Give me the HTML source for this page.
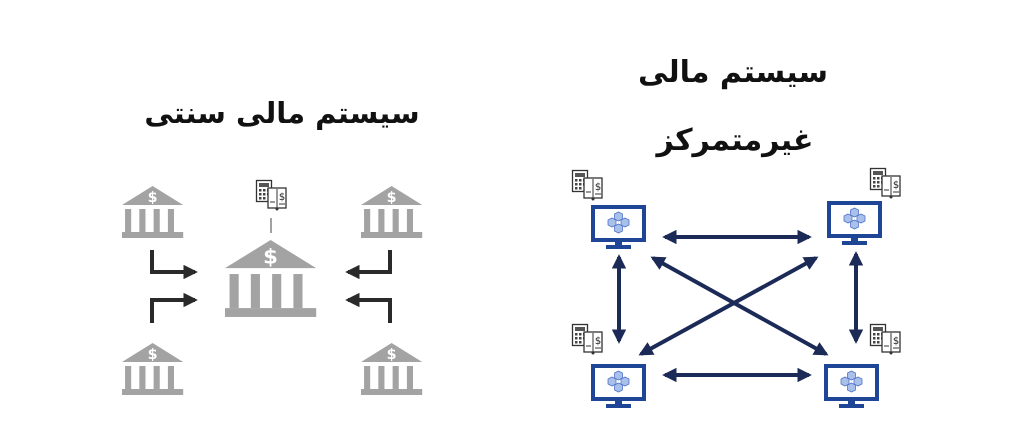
<!DOCTYPE html>
<html><head><meta charset="utf-8"><style>
html,body{margin:0;padding:0;background:#fff;}
svg{display:block}
text{font-family:"DejaVu Sans","Noto Sans CJK SC",sans-serif;}
</style></head><body>
<svg width="1024" height="435" viewBox="0 0 1024 435" xmlns="http://www.w3.org/2000/svg">
<defs>
<g id="bank">
 <polygon points="0,19 30,0 60,19" fill="#a3a3a3"/>
 <text x="30" y="16" font-size="14" font-weight="bold" fill="#fff" text-anchor="middle">$</text>
 <rect x="3" y="23" width="6" height="23" fill="#a3a3a3"/>
 <rect x="17" y="23" width="6" height="23" fill="#a3a3a3"/>
 <rect x="31" y="23" width="6" height="23" fill="#a3a3a3"/>
 <rect x="45" y="23" width="6" height="23" fill="#a3a3a3"/>
 <rect x="0" y="46" width="60" height="6" fill="#a3a3a3"/>
</g>
<g id="calc">
 <rect x="0.5" y="0.5" width="15" height="21" fill="#fff" stroke="#333" stroke-width="1.3"/>
 <rect x="3" y="3" width="10" height="4" fill="#555"/>
 <g fill="#444"><rect x="3" y="9" width="2.5" height="2.5"/><rect x="7" y="9" width="2.5" height="2.5"/><rect x="11" y="9" width="2.5" height="2.5"/>
 <rect x="3" y="13" width="2.5" height="2.5"/><rect x="7" y="13" width="2.5" height="2.5"/><rect x="11" y="13" width="2.5" height="2.5"/>
 <rect x="3" y="17" width="2.5" height="2.5"/><rect x="7" y="17" width="2.5" height="2.5"/></g>
 <rect x="12" y="8" width="18" height="20" fill="#fff" stroke="#333" stroke-width="1.3"/>
 <line x1="21" y1="9" x2="21" y2="28" stroke="#333" stroke-width="1"/>
 <text x="26" y="20" font-size="10" fill="#222" text-anchor="middle">$</text>
 <line x1="14" y1="22" x2="19" y2="22" stroke="#333"/><line x1="23" y1="24" x2="29" y2="24" stroke="#333"/>
 <circle cx="21" cy="29" r="1.5" fill="#333"/>
</g>
<g id="cube"><polygon points="0,-4 4,-2 4,3 0,5 -4,3 -4,-2" fill="#a9c0ea" stroke="#4f73c9" stroke-width="0.8"/></g>
<g id="mon">
 <rect x="2" y="2" width="51" height="33" fill="#fff" stroke="#1e4596" stroke-width="4"/>
 <rect x="24" y="36" width="7" height="4" fill="#1e4596"/>
 <rect x="15" y="40" width="25" height="4" fill="#1e4596"/>
 <use href="#cube" x="27.5" y="11"/><use href="#cube" x="21" y="17"/><use href="#cube" x="34" y="17"/><use href="#cube" x="27.5" y="23"/>
</g>
<marker id="ah" viewBox="0 0 10 10" refX="8" refY="5" markerWidth="3.6" markerHeight="3.6" orient="auto-start-reverse"><path d="M0,0 L10,5 L0,10 z" fill="#1b2a57"/></marker>
<marker id="ak" viewBox="0 0 10 10" refX="8" refY="5" markerWidth="3.6" markerHeight="3.6" orient="auto"><path d="M0,0 L10,5 L0,10 z" fill="#2a2a2a"/></marker>
</defs>

<text x="282" y="123" font-size="29" font-weight="bold" text-anchor="middle" fill="#111">سیستم مالی سنتی</text>
<text x="733" y="82" font-size="30" font-weight="bold" text-anchor="middle" fill="#111">سیستم مالی</text>
<text x="735" y="150" font-size="30" font-weight="bold" text-anchor="middle" fill="#111">غیرمتمرکز</text>

<use href="#bank" transform="translate(122,186) scale(1.02,1)"/>
<use href="#bank" transform="translate(361,186) scale(1.02,1)"/>
<use href="#bank" transform="translate(122,343) scale(1.02,1)"/>
<use href="#bank" transform="translate(361,343) scale(1.02,1)"/>
<use href="#bank" transform="translate(225,240) scale(1.52,1.48)"/>
<use href="#calc" transform="translate(256,180)"/>
<line x1="271" y1="218" x2="271" y2="233" stroke="#444" stroke-width="1"/>

<g stroke="#2a2a2a" stroke-width="4" fill="none">
<path d="M152,250 V272 H195" marker-end="url(#ak)"/>
<path d="M152,323 V300 H195" marker-end="url(#ak)"/>
<path d="M390,250 V272 H348" marker-end="url(#ak)"/>
<path d="M390,323 V300 H348" marker-end="url(#ak)"/>
</g>

<use href="#mon" x="591" y="205"/>
<use href="#mon" x="827" y="201"/>
<use href="#mon" x="591" y="364"/>
<use href="#mon" x="824" y="364"/>
<use href="#calc" x="572" y="170"/>
<use href="#calc" x="870" y="168"/>
<use href="#calc" x="572" y="324"/>
<use href="#calc" x="870" y="324"/>

<g stroke="#1b2a57" stroke-width="4" fill="none" marker-start="url(#ah)" marker-end="url(#ah)">
<line x1="665" y1="237" x2="809" y2="237"/>
<line x1="665" y1="375" x2="809" y2="375"/>
<line x1="619" y1="257" x2="619" y2="341"/>
<line x1="856" y1="254" x2="856" y2="341"/>
<line x1="653" y1="258" x2="826" y2="354"/>
<line x1="641" y1="354" x2="816" y2="258"/>
</g>
</svg>
</body></html>
